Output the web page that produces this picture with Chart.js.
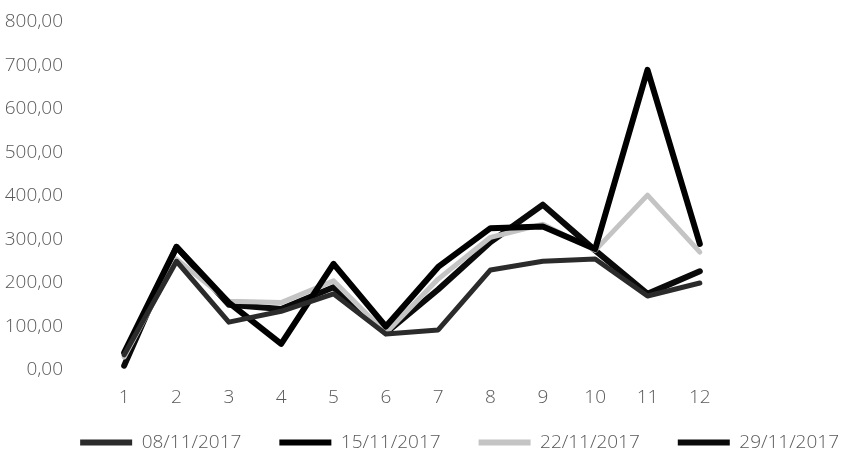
<!DOCTYPE html>
<html>
<head>
<meta charset="utf-8">
<script src="https://cdn.jsdelivr.net/npm/chart.js@4/dist/chart.umd.min.js"></script>
<style>
html,body{margin:0;padding:0;background:#fff;}
#wrap{width:843px;height:460px;position:relative;}
</style>
</head>
<body>
<div id="wrap"><canvas id="c" width="843" height="460"></canvas></div>
<script>
const categories = ["1","2","3","4","5","6","7","8","9","10","11","12"];
const seriesNames = ["08/11/2017","15/11/2017","22/11/2017","29/11/2017"];
const s0811 = [35, 250, 110, 135, 175, 83, 92, 230, 250, 255, 170, 200];
const s1511 = [40, 283, 155, 60, 244, 100, 237, 326, 330, 278, 690, 290];
const s2211 = [30, 255, 158, 155, 205, 85, 209, 305, 335, 275, 402, 271];
const s2911 = [10, 283, 150, 140, 190, 85, 185, 294, 380, 275, 175, 227];
const yTicks = [0,100,200,300,400,500,600,700,800];

const colors = ["#2b2b2b", "#000000", "#c4c4c4", "#0a0a0a"];
const widths = [5, 6, 5, 6];
const values = [s0811, s1511, s2211, s2911];

const datasets = seriesNames.map((n, i) => ({
  label: n,
  data: values[i],
  borderColor: colors[i],
  backgroundColor: colors[i],
  borderWidth: widths[i],
  pointRadius: 0,
  tension: 0,
  borderJoinStyle: 'round',
  borderCapStyle: 'round',
  yAxisID: 'y'
}));

const font = { family: "'Open Sans', sans-serif", size: 19, weight: '300' };

const legendFix = {
  id: 'legendFix',
  afterInit(chart) {
    const lg = chart.legend;
    if (lg && !lg._patched) {
      const orig = lg.fit.bind(lg);
      lg.fit = function () { orig(); this.height = 52; };
      lg._patched = true;
    }
  },
  afterLayout(chart) {
    const lg = chart.legend;
    if (lg) { lg.top -= 13; lg.left += 34; lg.right += 34; }
  }
};

function noPad(s) { s.paddingTop = 0; s.paddingBottom = 0; }

new Chart(document.getElementById('c'), {
  type: 'line',
  data: { labels: categories, datasets: datasets },
  plugins: [legendFix],
  options: {
    responsive: false,
    animation: false,
    devicePixelRatio: 1,
    layout: { autoPadding: false, padding: { left: 0, right: 0, top: 22, bottom: 0 } },
    plugins: {
      legend: {
        position: 'bottom',
        align: 'end',
        labels: {
          font: font,
          color: '#595959',
          boxWidth: 52,
          boxHeight: 6,
          padding: 38,
          generateLabels: (chart) => chart.data.datasets.map((d, i) => ({
            text: d.label,
            fillStyle: d.borderColor,
            strokeStyle: d.borderColor,
            lineWidth: 0,
            datasetIndex: i,
            fontColor: '#595959'
          }))
        }
      },
      tooltip: { enabled: false }
    },
    scales: {
      x: {
        offset: true,
        grid: { display: false },
        border: { display: false },
        ticks: { font: font, color: '#595959', padding: 8, maxRotation: 0 },
        afterFit: (s) => { s.height = 38; }
      },
      y: {
        position: 'left',
        min: 0, max: 800,
        grid: { display: false },
        border: { display: false },
        afterBuildTicks: (s) => { s.ticks = yTicks.map(v => ({ value: v })); },
        ticks: {
          font: font, color: '#595959', padding: 27,
          callback: (v) => Number(v).toFixed(2).replace('.', ',')
        },
        afterFit: (s) => { s.width = 98; noPad(s); }
      },
      yr: {
        position: 'right',
        display: true,
        min: 0, max: 800,
        grid: { display: false },
        border: { display: false },
        ticks: { display: false },
        afterFit: (s) => { s.width = 117; noPad(s); }
      }
    }
  }
});
</script>
</body>
</html>
